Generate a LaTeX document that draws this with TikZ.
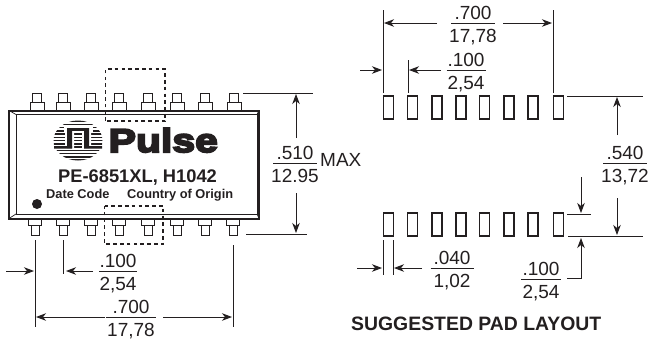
\documentclass[tikz,border=0pt]{standalone}
\usepackage{fontspec}
\setmainfont{Liberation Sans}
\newfontfamily\pulsefont[FakeStretch=1.24]{Liberation Sans Bold}
\usetikzlibrary{arrows.meta}
\definecolor{inkblack}{HTML}{231F20}
\tikzset{
  dimtext/.style = {inner sep=0pt, anchor=base, text=inkblack, font=\fontsize{19}{20}\selectfont},
  boldtext/.style = {inner sep=0pt, anchor=base west, text=inkblack, font=\bfseries\fontsize{12.8}{14}\selectfont},
  dimline/.style = {draw=inkblack, line width=0.9pt},
  dimarrow/.style = {dimline, -{Stealth[length=10pt,width=7.5pt,inset=3pt]}},
  pinbox/.style = {draw=inkblack, line width=1pt, fill=white},
  padbox/.style = {draw=inkblack, line width=1.4pt, inner sep=0pt, minimum width=10pt, minimum height=23pt},
  dashbox/.style = {draw=inkblack, line width=1.5pt, dash pattern=on 3.6pt off 3.2pt}
}
% value over millimetres, with the bar between them
\newcommand{\dimfrac}[6]{%
  \node[dimtext] (#1top) at (#2,#3-4) {#4};
  \node[dimtext] (#1bot) at (#2,#3+19) {#5};
  \coordinate (#1l) at (#2-#6,#3);
  \coordinate (#1r) at (#2+#6,#3);
  \draw[dimline] (#1l) -- (#1r);
}
\begin{document}
\begin{tikzpicture}[x=1pt, y=-1pt]
  \useasboundingbox (0,0) rectangle (649,341);
  % part outline with its pins
  \foreach \i/\px/\qx in {1/37/35, 2/63/63, 3/91/91, 4/119/119, 5/148/148, 6/177/177, 7/205/205, 8/234/233} {
    \draw[pinbox] (\px-4.5,93) rectangle (\px+4.5,102);
    \draw[pinbox] (\px-7,102) rectangle (\px+7,110);
    \draw[pinbox] (\qx-6.5,219) rectangle (\qx+6.5,225);
    \draw[pinbox] (\qx-4,225) rectangle (\qx+4,235);
  }
  \draw[draw=inkblack, line width=2pt] (9,110.5) rectangle (259,218.5);
  \draw[draw=inkblack, line width=0.9pt] (16,114.5) rectangle (257,214);
  \draw[draw=inkblack, line width=0.7pt] (9,110.5) -- (16,114.5) (259,110.5) -- (257,114.5)
    (9,218.5) -- (16,214) (259,218.5) -- (257,214);
  \draw[dashbox] (105.5,121) -- (105.5,69) -- (165,69) -- (165,121) -- cycle;
  \draw[dashbox] (104.5,206) -- (163,206) -- (163,244) -- (104.5,244) -- cycle;
  % logo
  \begin{scope}
    \clip (78,140.5) ellipse (24.5 and 20);
    \foreach \k in {0,...,12}
      \draw[inkblack, line width=1.5pt] (50,121+3.25*\k) -- (106,121+3.25*\k);
  \end{scope}
  \draw[white, line width=2pt] (64.5,127) rectangle (91.5,131);
  \fill[white] (65,127) rectangle (74,149) (82,127) rectangle (91,149);
  \fill[inkblack] (67,128) rectangle (89,130.5);
  \fill[inkblack] (67,128) rectangle (72,148) (84,128) rectangle (89,148);
  \fill[inkblack] (54,146) rectangle (72,148.5) (84,146) rectangle (102,148.5);
  \node[inner sep=0pt, anchor=base west, text=inkblack, font=\pulsefont\fontsize{33}{34}\selectfont] (logoname) at (108.5,152)
    {\special{pdf:code 2 Tr 2 w}Pulse\special{pdf:code 0 Tr 1 w}};
  \node[boldtext, font=\bfseries\fontsize{18.3}{20}\selectfont] (partno) at (58,182) {PE-6851XL, H1042};
  \node[boldtext] (datecode) at (46,198) {Date Code};
  \node[boldtext] (origin) at (127,198) {Country of Origin};
  \fill[inkblack] (37,204) circle (5);
  % pads
  \foreach \i/\px in {1/388.5, 2/412.5, 3/437, 4/461, 5/484.5, 6/509, 7/533, 8/558.5} {
    \node[padbox] (padtop\i) at (\px,107.5) {};
    \node[padbox] (padbot\i) at (\px,224.5) {};
  }
  % ends of the dimension lines
  \foreach \n/\px/\py in {a1/243/93, a2/313/93, a3/246/234, a4/307/234, a5/296/138, a6/296/94, a7/296/193, a8/296/233,
    b1/35/240, b2/35/327, b3/63/240, b4/63/274, b5/233/245, b6/233/327, b7/6/271, b8/34/271, b9/93/271, b10/66/271,
    b11/105/317, b12/36/317, b13/163/317, b14/232/317,
    c1/383/10, c2/383/93, c3/553/10, c4/553/93, c5/408/60, c6/408/93, c7/437/23, c8/384/23, c9/503/23, c10/552/23,
    c11/360/70, c12/382/70, c13/441/70, c14/409/70, c15/567/96, c16/643/96, c17/617/135, c18/617/97,
    d1/567/214, d2/591/214, d3/568/236, d4/643/236, d5/581/177, d6/581/213, d7/617/198, d8/617/235,
    d9/567/278, d10/581/278, d11/581/238, d12/383/240, d13/383/275, d14/393/240, d15/393/275,
    d16/357/268, d17/382/268, d18/422/268, d19/394/268} {
    \coordinate (\n) at (\px,\py);
  }
  \draw[dimline] (a1) -- (a2);
  \draw[dimline] (a3) -- (a4);
  \draw[dimarrow] (a5) -- (a6);
  \draw[dimarrow] (a7) -- (a8);
  \draw[dimline] (b1) -- (b2);
  \draw[dimline] (b3) -- (b4);
  \draw[dimline] (b5) -- (b6);
  \draw[dimarrow] (b7) -- (b8);
  \draw[dimarrow] (b9) -- (b10);
  \draw[dimarrow] (b11) -- (b12);
  \draw[dimarrow] (b13) -- (b14);
  \draw[dimline] (c1) -- (c2);
  \draw[dimline] (c3) -- (c4);
  \draw[dimline] (c5) -- (c6);
  \draw[dimarrow] (c7) -- (c8);
  \draw[dimarrow] (c9) -- (c10);
  \draw[dimarrow] (c11) -- (c12);
  \draw[dimarrow] (c13) -- (c14);
  \draw[dimline] (c15) -- (c16);
  \draw[dimarrow] (c17) -- (c18);
  \draw[dimline] (d1) -- (d2);
  \draw[dimline] (d3) -- (d4);
  \draw[dimarrow] (d5) -- (d6);
  \draw[dimarrow] (d7) -- (d8);
  \draw[dimarrow] (d9) -- (d10) -- (d11);
  \draw[dimline] (d12) -- (d13);
  \draw[dimline] (d14) -- (d15);
  \draw[dimarrow] (d16) -- (d17);
  \draw[dimarrow] (d18) -- (d19);
  % values
  \dimfrac{widthmax}{295}{163}{.510}{12.95}{22}
  \node[dimtext, anchor=base west] (maxlabel) at (320,166) {MAX};
  \dimfrac{pitchpart}{118}{271}{.100}{2,54}{19}
  \dimfrac{spanpart}{131}{317}{.700}{17,78}{25}
  \dimfrac{spanpad}{473}{23}{.700}{17,78}{22}
  \dimfrac{pitchpad}{466}{70}{.100}{2,54}{19.5}
  \dimfrac{rowgap}{625}{163}{.540}{13,72}{22}
  \dimfrac{padwidth}{452}{268}{.040}{1,02}{21.5}
  \dimfrac{padpitch}{541}{279}{.100}{2,54}{20}
  \node[boldtext, font=\bfseries\fontsize{19.4}{20}\selectfont] (padtitle) at (351,330) {SUGGESTED PAD LAYOUT};
\end{tikzpicture}
\end{document}
